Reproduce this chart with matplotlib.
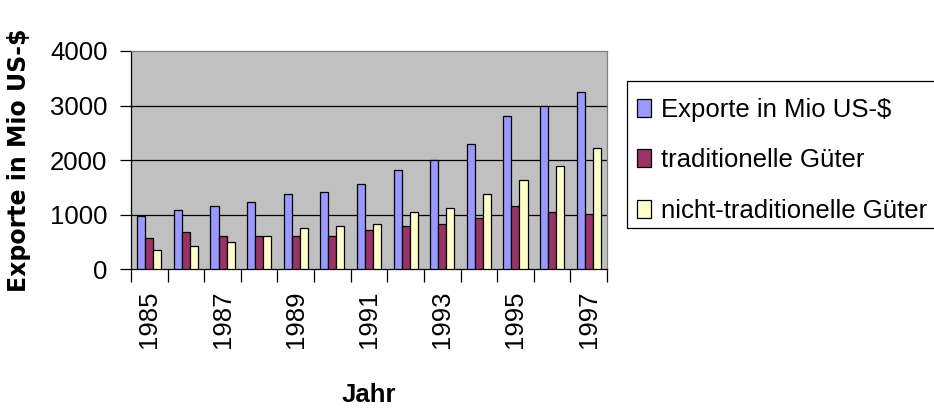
import matplotlib
matplotlib.use("Agg")
import matplotlib.pyplot as plt
from matplotlib.patches import Rectangle
import numpy as np

years = [1985, 1986, 1987, 1988, 1989, 1990, 1991, 1992, 1993, 1994, 1995, 1996, 1997]
exporte = [980, 1090, 1165, 1240, 1385, 1420, 1570, 1825, 2010, 2300, 2815, 2995, 3255]
traditionelle = [580, 690, 615, 615, 615, 615, 725, 800, 835, 945, 1165, 1055, 1020]
nicht_traditionelle = [360, 430, 505, 615, 760, 800, 835, 1055, 1130, 1385, 1640, 1900, 2230]
series_names = ["Exporte in Mio US-$", "traditionelle Güter", "nicht-traditionelle Güter"]
colors = ["#9999FF", "#993366", "#FFFFCC"]
y_ticks = [0, 1000, 2000, 3000, 4000]

plt.rcParams['font.family'] = ['Liberation Sans', 'DejaVu Sans']

W, H = 934, 409
fig = plt.figure(figsize=(W / 100, H / 100), dpi=100)
ax = fig.add_axes([131 / W, 1 - 269.3 / H, (607 - 131) / W, (269.3 - 51) / H])
ax.set_facecolor("#C0C0C0")

x = np.arange(len(years))
bw = 0.22
data = [exporte, traditionelle, nicht_traditionelle]
for i, (vals, c, name) in enumerate(zip(data, colors, series_names)):
    ax.bar(x + (i - 1) * bw, vals, width=bw, color=c, edgecolor="black",
           linewidth=0.9, label=name, zorder=3)

ax.set_xlim(-0.5, len(years) - 0.5)
ax.set_ylim(0, 4000)
ax.set_yticks(y_ticks)
ax.set_yticklabels([str(v) for v in y_ticks], fontsize=18.5)
for v in y_ticks[1:-1]:
    ax.axhline(v, color="black", linewidth=0.9, zorder=1)

ax.set_xticks(np.arange(-0.5, len(years), 1.0))
ax.set_xticklabels([])
ax.set_xticks(x[::2], minor=True)
ax.set_xticklabels([str(y) for y in years[::2]], minor=True, rotation=90, fontsize=18.5)
ax.tick_params(axis="x", which="major", direction="out", length=9, width=0.9)
ax.tick_params(axis="x", which="minor", length=0, pad=15)
ax.tick_params(axis="y", direction="out", length=8, width=0.9, pad=9)

for s in ["left", "bottom"]:
    ax.spines[s].set_color("black")
    ax.spines[s].set_linewidth(0.9)
for s in ["top", "right"]:
    ax.spines[s].set_color("#808080")
    ax.spines[s].set_linewidth(0.9)

fig.text(19 / W, 1 - 160 / H, "Exporte in Mio US-$", rotation=90, ha="center", va="center",
         fontsize=17, fontweight="bold", family=["DejaVu Sans"])
fig.text(369 / W, 1 - 395 / H, "Jahr", ha="center", va="center", fontsize=18.5, fontweight="bold")

# legend frame
fig.patches.append(Rectangle((627 / W, 1 - 228 / H), (940 - 627) / W, (228 - 81) / H,
                             transform=fig.transFigure, fill=False, edgecolor="black",
                             linewidth=0.9))
handles, labels = ax.get_legend_handles_labels()
leg = fig.legend(handles, labels, loc="upper left", bbox_to_anchor=(637 / W, 1 - 98 / H),
                 fontsize=18.5, frameon=False, borderaxespad=0, borderpad=0,
                 handlelength=0.55, handleheight=0.7, handletextpad=0.4,
                 labelspacing=1.03)

fig.savefig("out.png", dpi=100, facecolor="white")
